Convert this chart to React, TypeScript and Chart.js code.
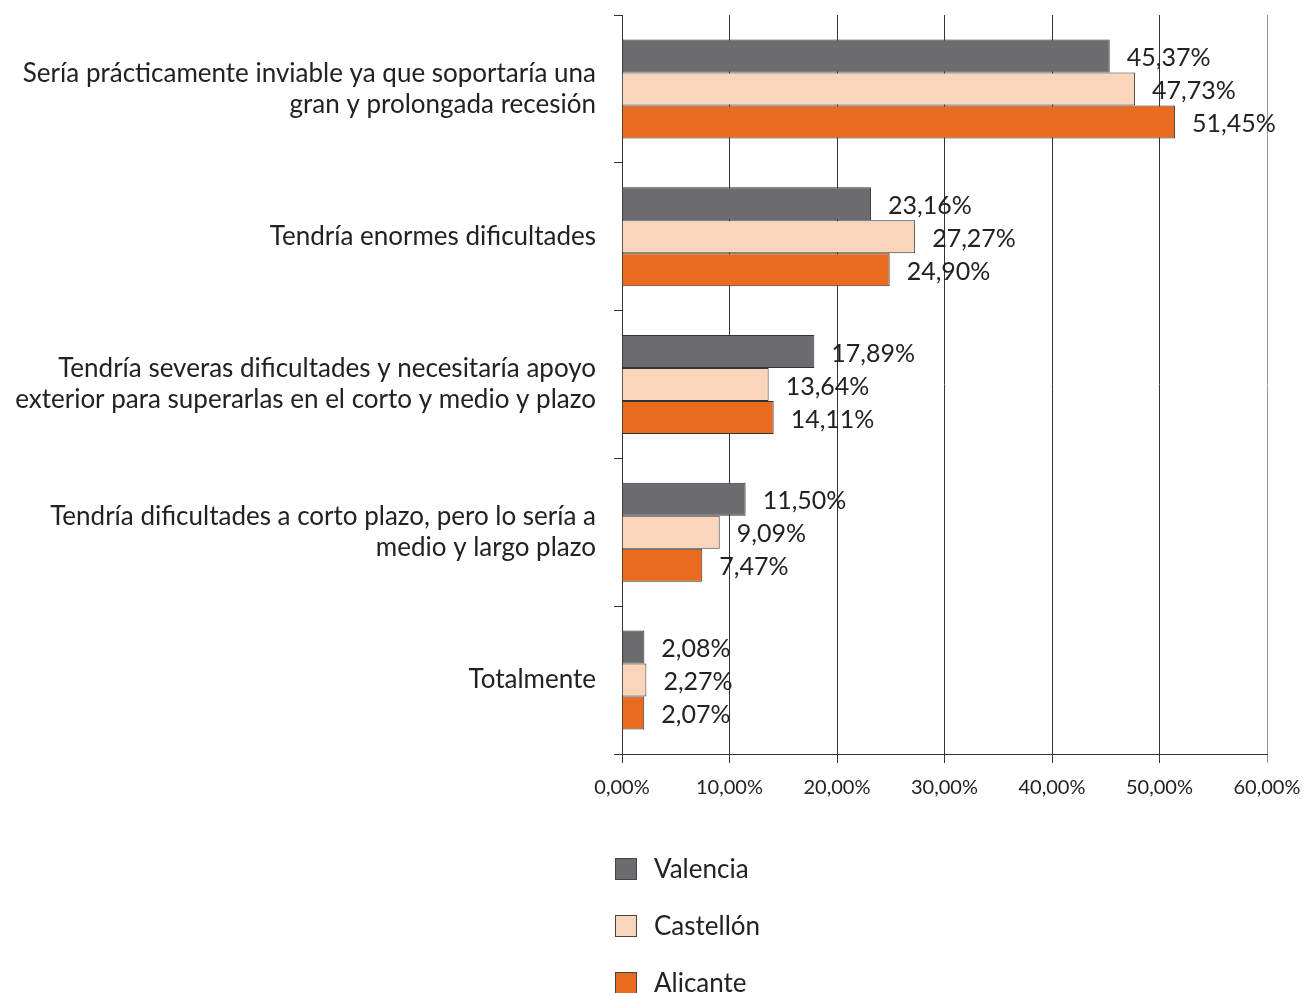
import React, { useEffect, useRef } from "react";
import { Chart, registerables } from "chart.js";

Chart.register(...registerables);

const categories: string[][] = [
  ["Sería prácticamente inviable ya que soportaría una", "gran y prolongada recesión"],
  ["Tendría enormes dificultades"],
  ["Tendría severas dificultades y necesitaría apoyo", "exterior para superarlas en el corto y medio y plazo"],
  ["Tendría dificultades a corto plazo, pero lo sería a", "medio y largo plazo"],
  ["Totalmente"],
];

const seriesNames = ["Valencia", "Castellón", "Alicante"];
const valencia = [45.37, 23.16, 17.89, 11.5, 2.08];
const castellon = [47.73, 27.27, 13.64, 9.09, 2.27];
const alicante = [51.45, 24.9, 14.11, 7.47, 2.07];
const xTicks = [0, 10, 20, 30, 40, 50, 60];

const colors = ["#6b6b70", "#f9d5bb", "#e96b1f"];
const FONT = "Lato, 'Open Sans', sans-serif";

const fmt = (v: number) => v.toFixed(2).replace(".", ",") + "%";

export default function App() {
  const ref = useRef<HTMLCanvasElement | null>(null);
  useEffect(() => {
    document.body.style.margin = "0";
    document.body.style.overflow = "hidden";
    const canvas = ref.current!;
    const dataLabels = {
      id: "dataLabels",
      afterDatasetsDraw(chart: any) {
        const ctx = chart.ctx;
        ctx.save();
        ctx.font = `25px ${FONT}`;
        ctx.fillStyle = "#222";
        ctx.textAlign = "left";
        ctx.textBaseline = "middle";
        chart.data.datasets.forEach((ds: any, i: number) => {
          const meta = chart.getDatasetMeta(i);
          meta.data.forEach((bar: any, j: number) => {
            ctx.fillText(fmt(ds.data[j]), bar.x + 17, bar.y + 2);
          });
        });
        ctx.restore();
      },
    };
    const legendPlugin = {
      id: "vertLegend",
      afterDraw(chart: any) {
        const ctx = chart.ctx;
        ctx.save();
        const ys = [869, 926, 983];
        seriesNames.forEach((name, i) => {
          const y = ys[i];
          ctx.fillStyle = colors[i];
          ctx.fillRect(615, y - 11, 22, 22);
          ctx.strokeStyle = "#444";
          ctx.lineWidth = 1;
          ctx.strokeRect(615.5, y - 10.5, 21, 21);
          ctx.fillStyle = "#222";
          ctx.font = `26px ${FONT}`;
          ctx.textAlign = "left";
          ctx.textBaseline = "middle";
          ctx.fillText(name, 654, y + 1);
        });
        ctx.restore();
      },
    };
    const chart = new Chart(canvas, {
      type: "bar",
      data: {
        labels: categories,
        datasets: [
          { label: seriesNames[0], data: valencia, backgroundColor: colors[0], borderColor: "#333", borderWidth: 1 },
          { label: seriesNames[1], data: castellon, backgroundColor: colors[1], borderColor: "#333", borderWidth: 1 },
          { label: seriesNames[2], data: alicante, backgroundColor: colors[2], borderColor: "#333", borderWidth: 1 },
        ],
      },
      options: {
        indexAxis: "y",
        responsive: false,
        animation: false,
        devicePixelRatio: 1,
        layout: { padding: { left: 0, top: 15, right: 37, bottom: 189 } },
        datasets: { bar: { categoryPercentage: 0.67, barPercentage: 1 } },
        plugins: { legend: { display: false }, tooltip: { enabled: false } },
        scales: {
          x: {
            min: 0,
            max: 60,
            afterBuildTicks: (s: any) => {
              s.ticks = xTicks.map((v) => ({ value: v }));
            },
            afterFit: (s: any) => {
              s.height = 50;
              s.paddingLeft = 0;
              s.paddingRight = 0;
            },
            border: { display: true, color: "#333", width: 1 },
            grid: {
              color: (c: any) => (c.tick && c.tick.value === 60 ? "#999" : "#333"),
              lineWidth: 1,
              tickLength: 9,
              drawTicks: true,
            },
            ticks: {
              padding: 13,
              color: "#222",
              font: { family: FONT, size: 20 },
              callback: (v: any) => fmt(Number(v)),
              maxRotation: 0,
            },
          },
          y: {
            afterFit: (s: any) => {
              s.width = 622;
              s.paddingTop = 0;
              s.paddingBottom = 0;
            },
            border: { display: true, color: "#333", width: 1 },
            grid: { drawOnChartArea: false, drawTicks: true, tickLength: 8, color: "#333", offset: true },
            ticks: {
              padding: 18,
              color: "#222",
              font: { family: FONT, size: 26, lineHeight: 1.2 },
            },
          },
        },
      },
      plugins: [dataLabels, legendPlugin],
    } as any);
    return () => chart.destroy();
  }, []);
  return (
    <div style={{ width: 1304, height: 993 }}>
      <canvas ref={ref} width={1304} height={993} style={{ display: "block" }} />
    </div>
  );
}
